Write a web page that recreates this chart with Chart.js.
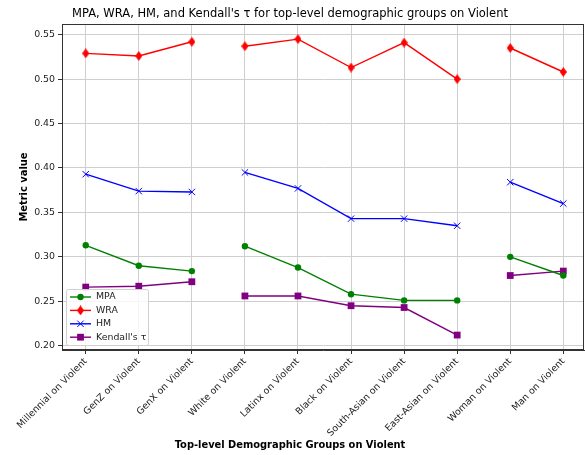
<!DOCTYPE html>
<html>
<head>
<meta charset="utf-8">
<script src="https://cdn.jsdelivr.net/npm/chart.js@4.4.1/dist/chart.umd.min.js"></script>
<style>
  html, body { margin: 0; padding: 0; background: #fff; }
  #wrap { width: 585px; height: 455px; }
</style>
</head>
<body>
<div id="wrap"><canvas id="chart" width="585" height="455"></canvas></div>
<script>
// Categories along the x axis
const groups = [
    "Millennial on Violent", "GenZ on Violent", "GenX on Violent",
    "White on Violent", "Latinx on Violent", "Black on Violent",
    "South-Asian on Violent", "East-Asian on Violent",
    "Woman on Violent", "Man on Violent"
];
// The line breaks after these indices (generation / race / gender)
const groupEnds = [2, 7];

// Metric values
const mpa = [0.313, 0.290, 0.284, 0.312, 0.288, 0.258, 0.251, 0.251, 0.300, 0.279];
const wra = [0.529, 0.526, 0.542, 0.537, 0.545, 0.513, 0.541, 0.500, 0.535, 0.508];
const hm = [0.393, 0.374, 0.373, 0.395, 0.377, 0.343, 0.343, 0.335, 0.384, 0.360];
const kendall = [0.266, 0.267, 0.272, 0.256, 0.256, 0.245, 0.243, 0.212, 0.279, 0.284];

const yTicks = [0.20, 0.25, 0.30, 0.35, 0.40, 0.45, 0.50, 0.55];

const FONT = "'DejaVu Sans', sans-serif";

// thin diamond marker like matplotlib 'd'
function thinDiamond(color) {
    const c = document.createElement('canvas');
    c.width = 7; c.height = 10;
    const g = c.getContext('2d');
    g.fillStyle = color;
    g.beginPath();
    g.moveTo(3.5, 0);
    g.lineTo(7, 5);
    g.lineTo(3.5, 10);
    g.lineTo(0, 5);
    g.closePath();
    g.fill();
    return c;
}
const diamond = thinDiamond('#ff0000');

function points(values) {
    return values.map((v, i) => ({ x: i, y: v }));
}

const gapSegment = {
    borderColor: ctx => groupEnds.includes(ctx.p0DataIndex) ? 'rgba(0,0,0,0)' : undefined
};

const series = [
    { label: 'MPA', data: mpa, color: '#008000', style: 'circle', radius: 3.2 },
    { label: 'WRA', data: wra, color: '#ff0000', style: diamond, radius: 4 },
    { label: 'HM', data: hm, color: '#0000ff', style: 'crossRot', radius: 4.5 },
    { label: "Kendall's τ", data: kendall, color: '#800080', style: 'rect', radius: 4.8 }
];

// drawing a marker for the legend
function drawMarker(ctx, s, x, y) {
    ctx.save();
    ctx.fillStyle = s.color;
    ctx.strokeStyle = s.color;
    if (s.style === 'circle') {
        ctx.beginPath();
        ctx.arc(x, y, s.radius, 0, Math.PI * 2);
        ctx.fill();
    } else if (s.style === 'crossRot') {
        const d = s.radius * Math.SQRT1_2;
        ctx.lineWidth = 1;
        ctx.beginPath();
        ctx.moveTo(x - d, y - d); ctx.lineTo(x + d, y + d);
        ctx.moveTo(x - d, y + d); ctx.lineTo(x + d, y - d);
        ctx.stroke();
    } else if (s.style === 'rect') {
        const h = s.radius * Math.SQRT1_2;
        ctx.fillRect(x - h, y - h, 2 * h, 2 * h);
    } else {
        ctx.drawImage(s.style, x - s.style.width / 2, y - s.style.height / 2);
    }
    ctx.restore();
}

const framePlugin = {
    id: 'frame',
    afterDraw(chart) {
        const ctx = chart.ctx;
        const a = chart.chartArea;
        ctx.save();
        ctx.strokeStyle = '#333';
        ctx.lineWidth = 1;
        ctx.strokeRect(Math.round(a.left) + 0.5, Math.round(a.top) + 0.5,
            Math.round(a.right - a.left) - 1, Math.round(a.bottom - a.top) - 1);

        // titles
        ctx.fillStyle = '#000';
        ctx.textAlign = 'center';
        ctx.textBaseline = 'middle';
        ctx.font = "11.5px " + FONT;
        ctx.fillText("MPA, WRA, HM, and Kendall's τ for top-level demographic groups on Violent", 290, 14);
        ctx.font = "bold 9.9px " + FONT;
        ctx.fillText("Top-level Demographic Groups on Violent", 290, 445);
        ctx.translate(24, (a.top + a.bottom) / 2);
        ctx.rotate(-Math.PI / 2);
        ctx.fillText("Metric value", 0, 0);
        ctx.restore();

        // legend box
        ctx.save();
        const bx = 66.5, by = 289.5, bw = 82, bh = 56;
        ctx.fillStyle = 'rgba(255,255,255,0.8)';
        ctx.strokeStyle = '#d0d0d0';
        ctx.lineWidth = 1;
        ctx.beginPath();
        ctx.roundRect(bx, by, bw, bh, 2);
        ctx.fill();
        ctx.stroke();
        ctx.font = "9.4px " + FONT;
        ctx.textAlign = 'left';
        ctx.textBaseline = 'middle';
        series.forEach((s, i) => {
            const y = 297 + i * 13.4;
            ctx.strokeStyle = s.color;
            ctx.lineWidth = 1.4;
            ctx.beginPath();
            ctx.moveTo(70, y);
            ctx.lineTo(91, y);
            ctx.stroke();
            drawMarker(ctx, s, 80.5, y);
            ctx.fillStyle = '#222';
            ctx.fillText(s.label, 96, y);
        });
        ctx.restore();
    }
};

new Chart(document.getElementById('chart'), {
    type: 'line',
    data: {
        datasets: series.map(s => ({
            label: s.label,
            data: points(s.data),
            borderColor: s.color,
            backgroundColor: s.color,
            borderWidth: 1.4,
            pointStyle: s.style,
            pointRadius: s.radius,
            pointBorderWidth: s.style === 'crossRot' ? 1 : 0,
            pointHoverRadius: s.radius,
            tension: 0,
            segment: gapSegment
        }))
    },
    options: {
        responsive: false,
        animation: false,
        layout: { autoPadding: false, padding: { left: 0, right: 1, top: 24, bottom: 0 } },
        plugins: {
            legend: { display: false },
            title: { display: false },
            tooltip: { enabled: false }
        },
        scales: {
            x: {
                type: 'linear',
                min: -0.447,
                max: 9.39,
                afterBuildTicks: scale => { scale.ticks = groups.map((_, i) => ({ value: i })); },
                afterFit: scale => {
                    scale.height = 105;
                    scale.paddingLeft = 0;
                    scale.paddingRight = 0;
                },
                grid: { color: '#cfcfcf', lineWidth: 1, tickLength: 4, tickColor: '#333' },
                border: { color: '#333', width: 1 },
                ticks: {
                    autoSkip: false,
                    minRotation: 45,
                    maxRotation: 45,
                    padding: 2,
                    color: '#222',
                    font: { family: FONT, size: 9.4 },
                    callback: v => groups[v]
                }
            },
            y: {
                min: 0.1952,
                max: 0.562,
                afterBuildTicks: scale => { scale.ticks = yTicks.map(v => ({ value: v })); },
                afterFit: scale => {
                    scale.width = 62;
                    scale.paddingTop = 0;
                    scale.paddingBottom = 0;
                },
                grid: { color: '#cfcfcf', lineWidth: 1, tickLength: 4, tickColor: '#333' },
                border: { color: '#333', width: 1 },
                ticks: {
                    padding: 3,
                    color: '#222',
                    font: { family: FONT, size: 9.4 },
                    callback: v => v.toFixed(2)
                }
            }
        }
    },
    plugins: [framePlugin]
});
</script>
</body>
</html>
